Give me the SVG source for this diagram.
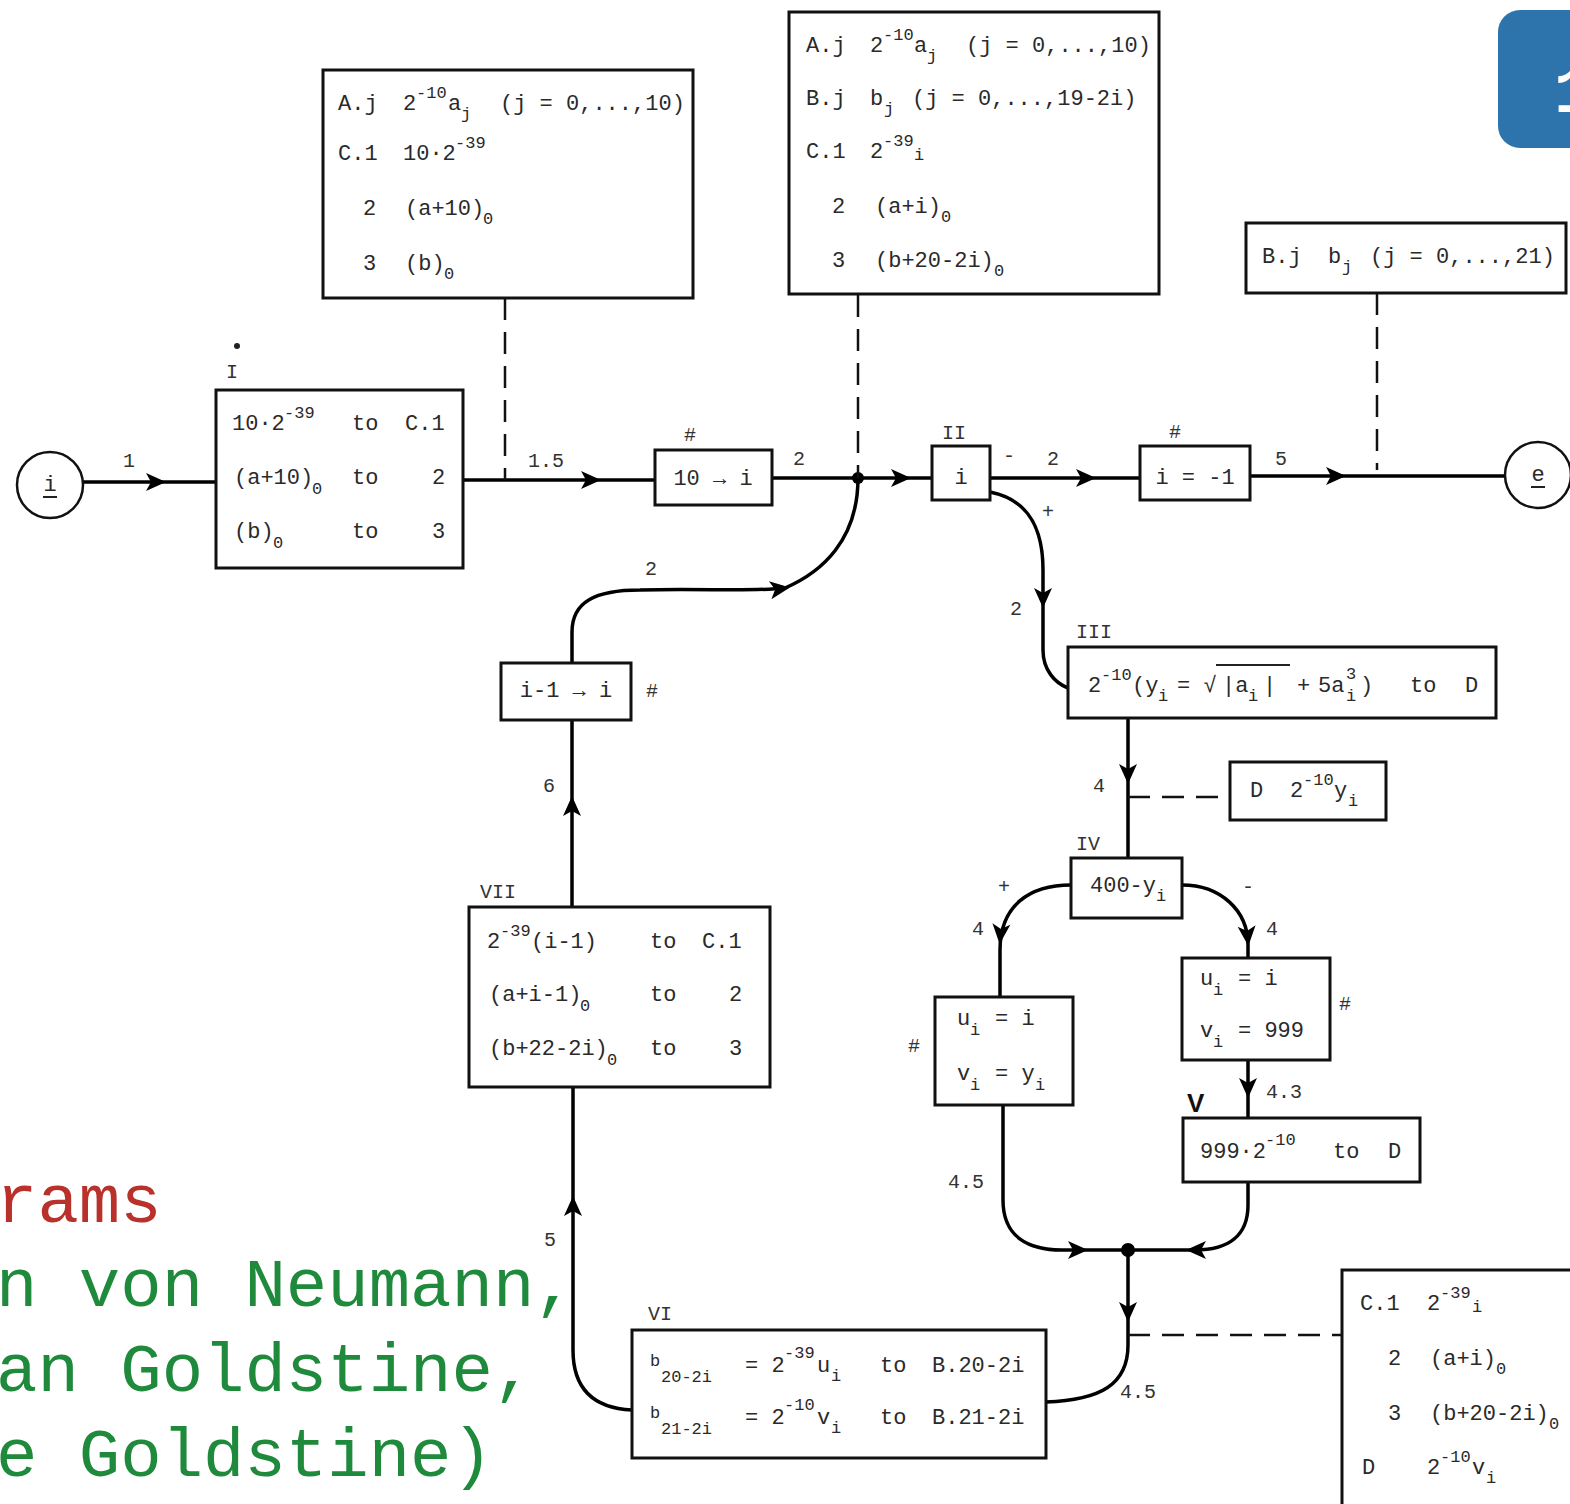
<svg xmlns="http://www.w3.org/2000/svg" xmlns:xlink="http://www.w3.org/1999/xlink" width="1570" height="1504" viewBox="0 0 1570 1504">
<defs>
<style>
.t{font-family:"Liberation Mono","DejaVu Sans Mono",monospace;font-size:22px;fill:#2a2a2a}
.s{font-size:17px}
.m{text-anchor:middle}
.lb{font-family:"Liberation Mono","DejaVu Sans Mono",monospace;font-size:20px;fill:#333}
.box{fill:#fff;stroke:#111;stroke-width:3}
.con{fill:none;stroke:#000;stroke-width:3.5}
.dash{fill:none;stroke:#111;stroke-width:2.5;stroke-dasharray:22 12}
.big{font-family:"Liberation Mono","Courier New",monospace;font-size:69px}
</style>
<path id="ah" d="M-16,-9 L4,0 L-16,9 L-11,0 Z" fill="#000"/>
</defs>
<rect width="1570" height="1504" fill="#fff"/>

<g id="badge">
<rect x="1498" y="10" width="110" height="138" rx="22" fill="#2d74ad"/>
<text x="1554" y="112" font-family="Liberation Mono,monospace" font-size="64" font-weight="bold" fill="#fff">1</text>
</g>

<g id="caption">
<text class="big" x="-4" y="1222" fill="#b8312a">rams</text>
<text class="big" x="-4" y="1306" fill="#1f8a3c">n von Neumann,</text>
<text class="big" x="-4" y="1391" fill="#1f8a3c">an Goldstine,</text>
<text class="big" x="-4" y="1476" fill="#1f8a3c">e Goldstine)</text>
</g>

<g id="connectors">
<path class="con" d="M83,482 H216"/>
<path class="con" d="M463,480 H655"/>
<path class="con" d="M772,478 H932"/>
<path class="con" d="M990,478 H1140"/>
<path class="con" d="M1250,476 H1505"/>
<path class="con" d="M990,492 C1030,500 1043,530 1043,570 V650 C1043,670 1055,683 1068,688"/>
<path class="con" d="M1128,718 V858"/>
<path class="con" d="M1071,885 C1030,885 1000,905 1000,950 V997"/>
<path class="con" d="M1182,885 C1220,885 1248,910 1248,945 V958"/>
<path class="con" d="M1248,1060 V1118"/>
<path class="con" d="M1003,1105 V1200 C1003,1238 1030,1250 1062,1250 H1128"/>
<path class="con" d="M1248,1182 V1205 C1248,1236 1228,1250 1195,1250 H1128"/>
<path class="con" d="M1128,1250 V1345 C1128,1385 1100,1400 1046,1402"/>
<path class="con" d="M632,1410 C590,1408 573,1385 573,1350 V1087"/>
<path class="con" d="M572,907 V720"/>
<path class="con" d="M572,663 V632 C572,602 595,590 640,590 C700,588 750,592 785,588 C822,572 858,540 858,478"/>
<circle cx="858" cy="478" r="6"/>
<circle cx="1128" cy="1250" r="7"/>
<path class="dash" d="M505,298 V480"/>
<path class="dash" d="M858,295 V478"/>
<path class="dash" d="M1377,293 V470"/>
<path class="dash" d="M1128,797 H1230"/>
<path class="dash" d="M1128,1335 H1342"/>
<use xlink:href="#ah" transform="translate(162,482)"/>
<use xlink:href="#ah" transform="translate(597,480)"/>
<use xlink:href="#ah" transform="translate(907,478)"/>
<use xlink:href="#ah" transform="translate(1092,478)"/>
<use xlink:href="#ah" transform="translate(1342,476)"/>
<use xlink:href="#ah" transform="translate(1043,604) rotate(90)"/>
<use xlink:href="#ah" transform="translate(1128,780) rotate(90)"/>
<use xlink:href="#ah" transform="translate(1000,940) rotate(95)"/>
<use xlink:href="#ah" transform="translate(1248,942) rotate(85)"/>
<use xlink:href="#ah" transform="translate(1248,1094) rotate(90)"/>
<use xlink:href="#ah" transform="translate(1084,1250)"/>
<use xlink:href="#ah" transform="translate(1190,1250) rotate(180)"/>
<use xlink:href="#ah" transform="translate(1128,1318) rotate(90)"/>
<use xlink:href="#ah" transform="translate(573,1200) rotate(-90)"/>
<use xlink:href="#ah" transform="translate(572,800) rotate(-90)"/>
<use xlink:href="#ah" transform="translate(786,588) rotate(-8)"/>
<text class="lb" x="123" y="467">1</text>
<text class="lb" x="528" y="467">1.5</text>
<text class="lb" x="793" y="465">2</text>
<text class="lb" x="1003" y="462">-</text>
<text class="lb" x="1047" y="465">2</text>
<text class="lb" x="1275" y="465">5</text>
<text class="lb" x="1042" y="518">+</text>
<text class="lb" x="1010" y="615">2</text>
<text class="lb" x="1093" y="792">4</text>
<text class="lb" x="998" y="893">+</text>
<text class="lb" x="1242" y="893">-</text>
<text class="lb" x="972" y="935">4</text>
<text class="lb" x="1266" y="935">4</text>
<text class="lb" x="1266" y="1098">4.3</text>
<text class="lb" x="948" y="1188">4.5</text>
<text class="lb" x="1120" y="1398">4.5</text>
<text class="lb" x="544" y="1246">5</text>
<text class="lb" x="543" y="792">6</text>
<text class="lb" x="645" y="575">2</text>
</g>

<g id="start">
<circle cx="50" cy="485" r="33" fill="#fff" stroke="#111" stroke-width="2.5"/>
<text class="t m" x="50" y="491">i</text>
<line x1="43" y1="497" x2="57" y2="497" stroke="#222" stroke-width="2"/>
</g>

<g id="end">
<circle cx="1538" cy="475" r="33" fill="#fff" stroke="#111" stroke-width="2.5"/>
<text class="t m" x="1538" y="481">e</text>
<line x1="1531" y1="487" x2="1545" y2="487" stroke="#222" stroke-width="2"/>
</g>

<g id="boxI">
<rect class="box" x="216" y="390" width="247" height="178"/>
<circle cx="237" cy="346" r="3" fill="#222"/>
<text class="lb" x="226" y="378">I</text>
<text class="t"><tspan x="232" y="430">10·2</tspan><tspan class="s" x="284" y="418">-39</tspan><tspan x="352" y="430">to</tspan><tspan x="405" y="430">C.1</tspan></text>
<text class="t"><tspan x="234" y="484">(a+10)</tspan><tspan class="s" x="312" y="494">0</tspan><tspan x="352" y="484">to</tspan><tspan x="432" y="484">2</tspan></text>
<text class="t"><tspan x="234" y="538">(b)</tspan><tspan class="s" x="273" y="548">0</tspan><tspan x="352" y="538">to</tspan><tspan x="432" y="538">3</tspan></text>
</g>

<g id="storeA">
<rect class="box" x="323" y="70" width="370" height="228"/>
<text class="t"><tspan x="338" y="110">A.j</tspan><tspan x="403" y="110">2</tspan><tspan class="s" x="416" y="98">-10</tspan><tspan x="448" y="110">a</tspan><tspan class="s" x="461" y="119">j</tspan><tspan x="500" y="110">(j = 0,...,10)</tspan></text>
<text class="t"><tspan x="338" y="160">C.1</tspan><tspan x="403" y="160">10·2</tspan><tspan class="s" x="455" y="148">-39</tspan></text>
<text class="t"><tspan x="363" y="215">2</tspan><tspan x="405" y="215">(a+10)</tspan><tspan class="s" x="483" y="224">0</tspan></text>
<text class="t"><tspan x="363" y="270">3</tspan><tspan x="405" y="270">(b)</tspan><tspan class="s" x="444" y="279">0</tspan></text>
</g>

<g id="set10">
<rect class="box" x="655" y="450" width="117" height="55"/>
<text class="lb" x="684" y="441">#</text>
<text class="t m" x="713" y="485">10 → i</text>
</g>

<g id="storeB">
<rect class="box" x="789" y="12" width="370" height="282"/>
<text class="t"><tspan x="806" y="52">A.j</tspan><tspan x="870" y="52">2</tspan><tspan class="s" x="883" y="40">-10</tspan><tspan x="914" y="52">a</tspan><tspan class="s" x="927" y="61">j</tspan><tspan x="966" y="52">(j = 0,...,10)</tspan></text>
<text class="t"><tspan x="806" y="105">B.j</tspan><tspan x="870" y="105">b</tspan><tspan class="s" x="884" y="114">j</tspan><tspan x="912" y="105">(j = 0,...,19-2i)</tspan></text>
<text class="t"><tspan x="806" y="158">C.1</tspan><tspan x="870" y="158">2</tspan><tspan class="s" x="883" y="146">-39</tspan><tspan class="s" x="914" y="160">i</tspan></text>
<text class="t"><tspan x="832" y="213">2</tspan><tspan x="875" y="213">(a+i)</tspan><tspan class="s" x="941" y="222">0</tspan></text>
<text class="t"><tspan x="832" y="267">3</tspan><tspan x="875" y="267">(b+20-2i)</tspan><tspan class="s" x="994" y="276">0</tspan></text>
</g>

<g id="boxII">
<rect class="box" x="932" y="446" width="58" height="54"/>
<text class="lb" x="942" y="439">II</text>
<text class="t m" x="961" y="484">i</text>
</g>

<g id="test">
<rect class="box" x="1140" y="446" width="110" height="54"/>
<text class="lb" x="1169" y="438">#</text>
<text class="t m" x="1195" y="484">i = -1</text>
</g>

<g id="storeC">
<rect class="box" x="1246" y="223" width="320" height="70"/>
<text class="t"><tspan x="1262" y="263">B.j</tspan><tspan x="1328" y="263">b</tspan><tspan class="s" x="1342" y="272">j</tspan><tspan x="1370" y="263">(j = 0,...,21)</tspan></text>
</g>

<g id="boxIII">
<rect class="box" x="1068" y="647" width="428" height="71"/>
<text class="lb" x="1076" y="638">III</text>
<text class="t"><tspan x="1088" y="692">2</tspan><tspan class="s" x="1101" y="680">-10</tspan><tspan x="1132" y="692">(y</tspan><tspan class="s" x="1158" y="701">i</tspan><tspan x="1177" y="692">= √</tspan><tspan x="1222" y="692">|a</tspan><tspan class="s" x="1248" y="701">i</tspan><tspan x="1263" y="692">|</tspan><tspan x="1297" y="692">+</tspan><tspan x="1318" y="692">5a</tspan><tspan class="s" x="1346" y="679">3</tspan><tspan class="s" x="1346" y="701">i</tspan><tspan x="1360" y="692">)</tspan><tspan x="1410" y="692">to</tspan><tspan x="1465" y="692">D</tspan></text>
<line x1="1216" y1="665" x2="1290" y2="665" stroke="#222" stroke-width="2"/>
</g>

<g id="storeD">
<rect class="box" x="1230" y="762" width="156" height="58"/>
<text class="t"><tspan x="1250" y="797">D</tspan><tspan x="1290" y="797">2</tspan><tspan class="s" x="1303" y="785">-10</tspan><tspan x="1334" y="797">y</tspan><tspan class="s" x="1348" y="806">i</tspan></text>
</g>

<g id="boxIV">
<rect class="box" x="1071" y="858" width="111" height="60"/>
<text class="lb" x="1076" y="850">IV</text>
<text class="t"><tspan x="1090" y="892">400-y</tspan><tspan class="s" x="1156" y="901">i</tspan></text>
</g>

<g id="setLeft">
<rect class="box" x="935" y="997" width="138" height="108"/>
<text class="lb" x="908" y="1052">#</text>
<text class="t"><tspan x="957" y="1025">u</tspan><tspan class="s" x="970" y="1035">i</tspan><tspan x="995" y="1025">= i</tspan></text>
<text class="t"><tspan x="957" y="1080">v</tspan><tspan class="s" x="970" y="1090">i</tspan><tspan x="995" y="1080">= y</tspan><tspan class="s" x="1035" y="1090">i</tspan></text>
</g>

<g id="setRight">
<rect class="box" x="1182" y="958" width="148" height="102"/>
<text class="lb" x="1339" y="1010">#</text>
<text class="t"><tspan x="1200" y="985">u</tspan><tspan class="s" x="1213" y="995">i</tspan><tspan x="1238" y="985">= i</tspan></text>
<text class="t"><tspan x="1200" y="1037">v</tspan><tspan class="s" x="1213" y="1047">i</tspan><tspan x="1238" y="1037">= 999</tspan></text>
</g>

<g id="boxV">
<rect class="box" x="1183" y="1118" width="237" height="64"/>
<text x="1187" y="1112" font-family="Liberation Sans,Arial,sans-serif" font-size="26" font-weight="bold" fill="#111">V</text>
<text class="t"><tspan x="1200" y="1158">999·2</tspan><tspan class="s" x="1265" y="1145">-10</tspan><tspan x="1333" y="1158">to</tspan><tspan x="1388" y="1158">D</tspan></text>
</g>

<g id="storeE">
<rect class="box" x="1342" y="1270" width="250" height="260"/>
<text class="t"><tspan x="1360" y="1310">C.1</tspan><tspan x="1427" y="1310">2</tspan><tspan class="s" x="1440" y="1298">-39</tspan><tspan class="s" x="1472" y="1312">i</tspan></text>
<text class="t"><tspan x="1388" y="1365">2</tspan><tspan x="1430" y="1365">(a+i)</tspan><tspan class="s" x="1496" y="1374">0</tspan></text>
<text class="t"><tspan x="1388" y="1420">3</tspan><tspan x="1430" y="1420">(b+20-2i)</tspan><tspan class="s" x="1549" y="1429">0</tspan></text>
<text class="t"><tspan x="1362" y="1474">D</tspan><tspan x="1427" y="1474">2</tspan><tspan class="s" x="1440" y="1462">-10</tspan><tspan x="1472" y="1474">v</tspan><tspan class="s" x="1486" y="1483">i</tspan></text>
</g>

<g id="boxVI">
<rect class="box" x="632" y="1330" width="414" height="128"/>
<text class="lb" x="648" y="1320">VI</text>
<text class="t"><tspan class="s" x="650" y="1366">b</tspan><tspan class="s" x="661" y="1382">20-2i</tspan><tspan x="745" y="1372">= 2</tspan><tspan class="s" x="784" y="1358">-39</tspan><tspan x="817" y="1372">u</tspan><tspan class="s" x="831" y="1381">i</tspan><tspan x="880" y="1372">to</tspan><tspan x="932" y="1372">B.20-2i</tspan></text>
<text class="t"><tspan class="s" x="650" y="1418">b</tspan><tspan class="s" x="661" y="1434">21-2i</tspan><tspan x="745" y="1424">= 2</tspan><tspan class="s" x="784" y="1410">-10</tspan><tspan x="817" y="1424">v</tspan><tspan class="s" x="831" y="1433">i</tspan><tspan x="880" y="1424">to</tspan><tspan x="932" y="1424">B.21-2i</tspan></text>
</g>

<g id="boxVII">
<rect class="box" x="469" y="907" width="301" height="180"/>
<text class="lb" x="480" y="898">VII</text>
<text class="t"><tspan x="487" y="948">2</tspan><tspan class="s" x="500" y="936">-39</tspan><tspan x="531" y="948">(i-1)</tspan><tspan x="650" y="948">to</tspan><tspan x="702" y="948">C.1</tspan></text>
<text class="t"><tspan x="489" y="1001">(a+i-1)</tspan><tspan class="s" x="580" y="1011">0</tspan><tspan x="650" y="1001">to</tspan><tspan x="729" y="1001">2</tspan></text>
<text class="t"><tspan x="489" y="1055">(b+22-2i)</tspan><tspan class="s" x="607" y="1065">0</tspan><tspan x="650" y="1055">to</tspan><tspan x="729" y="1055">3</tspan></text>
</g>

<g id="decr">
<rect class="box" x="501" y="663" width="130" height="57"/>
<text class="lb" x="646" y="697">#</text>
<text class="t m" x="566" y="697">i-1 → i</text>
</g>
</svg>
